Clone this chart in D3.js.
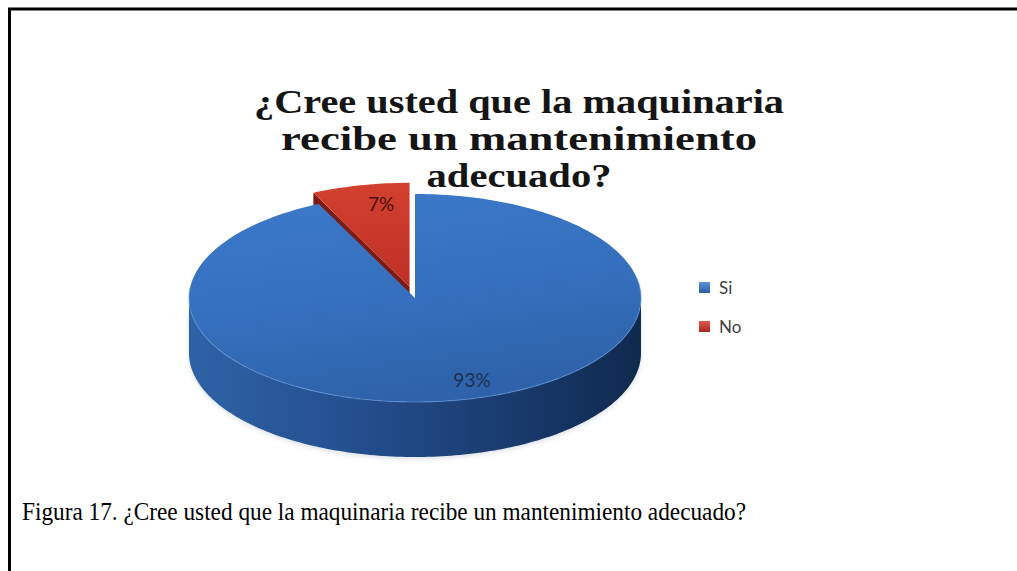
<!DOCTYPE html>
<html><head><meta charset="utf-8">
<script src="https://cdn.jsdelivr.net/npm/d3@7"></script>
<style>html,body{margin:0;padding:0;background:#fff;}svg{display:block;}</style>
</head><body>
<svg id="chart" width="1017" height="571"></svg>
<script>
// ---- data ----
const categories = ["Si", "No"];
const values = [93, 7];
const percentLabels = ["93%", "7%"];
const titleLines = ["¿Cree usted que la maquinaria", "recibe un mantenimiento", "adecuado?"];
const caption = "Figura 17. ¿Cree usted que la maquinaria recibe un mantenimiento adecuado?";

// ---- layout ----
const W = 1017, H = 571;
const svg = d3.select("#chart");
const cx = 415, cy = 298, rx = 226, ry = 104, depth = 55;
const explode = [0, 0.11];

// frame
svg.append("path").attr("d", `M9.5,${H} L9.5,9 L${W},9`).attr("fill", "none").attr("stroke", "#000").attr("stroke-width", 3);

// title
const titleY = [113, 150, 187];
const titleW = [530, 476, 185];
titleLines.forEach((t, i) => {
  svg.append("text").attr("x", 519).attr("y", titleY[i]).attr("text-anchor", "middle")
    .attr("font-family", "Liberation Serif, serif").attr("font-weight", "bold").attr("font-size", 33.5)
    .attr("fill", "#151515").attr("textLength", titleW[i]).attr("lengthAdjust", "spacingAndGlyphs").text(t);
});

// caption
svg.append("text").attr("x", 22).attr("y", 520).attr("font-family", "Liberation Serif, serif")
  .attr("font-size", 25).attr("fill", "#000").attr("textLength", 724).attr("lengthAdjust", "spacingAndGlyphs").text(caption);

// gradients
const defs = svg.append("defs");
function lin(id, stops, x1=0,y1=0,x2=1,y2=0){
  const g = defs.append("linearGradient").attr("id", id).attr("x1",x1).attr("y1",y1).attr("x2",x2).attr("y2",y2);
  stops.forEach(s => g.append("stop").attr("offset", s[0]).attr("stop-color", s[1]));
}
lin("blueTop", [[0,"#3c7aca"],[0.6,"#356fbd"],[1,"#2e63ab"]], 0,0,0.3,1);
lin("blueSide", [[0,"#2e62a6"],[0.35,"#24508f"],[0.75,"#18386a"],[1,"#102a4e"]]);
lin("redTop", [[0,"#d2402f"],[1,"#bf2f25"]], 0,0,0,1);
lin("legBlue", [[0,"#5a93d8"],[1,"#2b5fa4"]], 0,0,0,1);
lin("legRed", [[0,"#e05a4c"],[1,"#a82a22"]], 0,0,0,1);
const blur = defs.append("filter").attr("id", "soft").attr("x", "-5%").attr("y", "-5%").attr("width", "110%").attr("height", "110%");
blur.append("feGaussianBlur").attr("stdDeviation", 2.5);

const pie = d3.pie().sort(null).value(d => d)(values);
const rScale = d3.scaleLinear().domain([0, 1]).range([0, 1]);

function pt(a, r, ox, oy, z) {
  return [cx + ox + rScale(r) * rx * Math.sin(a), cy + oy - rScale(r) * ry * Math.cos(a) + z];
}
function arcPts(a0, a1, ox, oy, z) {
  const n = Math.max(2, Math.ceil(Math.abs(a1 - a0) / 0.02));
  return d3.range(n + 1).map(i => pt(a0 + (a1 - a0) * i / n, 1, ox, oy, z));
}
const line = d3.line();

const slices = pie.map((p, i) => {
  const mid = (p.startAngle + p.endAngle) / 2;
  const ox = explode[i] * rx * Math.sin(mid), oy = -explode[i] * ry * Math.cos(mid);
  return {p, i, ox, oy};
});
const topFill = ["url(#blueTop)", "url(#redTop)"];

// soft shadow beneath the pie
{
  const topA = arcPts(Math.PI / 2, 3 * Math.PI / 2, 0, 0, 0), botA = arcPts(3 * Math.PI / 2, Math.PI / 2, 0, 0, depth + 2);
  svg.append("path").attr("d", line(topA.concat(botA)) + "Z").attr("fill", "#9aa6b8").attr("opacity", 0.35).attr("filter", "url(#soft)");
}

// draw red (back) first, then blue
const order = [1, 0];
order.forEach(i => {
  const {p, ox, oy} = slices[i];
  const g = svg.append("g");
  if (i === 1) {
    const c = pt(0, 0, ox, oy, 0), e = pt(p.startAngle, 1, ox, oy, 0);
    g.append("path").attr("d", line([c, e, [e[0], e[1] + depth], [c[0], c[1] + depth]]) + "Z").attr("fill", "#7c1b14");
  }
  const s0 = Math.max(p.startAngle, Math.PI / 2), s1 = Math.min(p.endAngle, 3 * Math.PI / 2);
  if (s1 > s0) {
    const topA = arcPts(s0, s1, ox, oy, 0), botA = arcPts(s1, s0, ox, oy, depth);
    g.append("path").attr("d", line(topA.concat(botA)) + "Z").attr("fill", "url(#blueSide)");
  }
  const c = pt(0, 0, ox, oy, 0);
  g.append("path").attr("d", line([c].concat(arcPts(p.startAngle, p.endAngle, ox, oy, 0))) + "Z")
    .attr("fill", topFill[i]);
  if (i === 0) {
    g.append("path").attr("d", line(arcPts(Math.PI / 2 - 0.2, 3 * Math.PI / 2 + 0.1, ox, oy, 0)))
      .attr("fill", "none").attr("stroke", "#5d93d6").attr("stroke-width", 1.2).attr("opacity", 0.6);
  }
});

// percentage labels
svg.append("text").attr("x", 472).attr("y", 387).attr("text-anchor", "middle")
  .attr("font-family", "Lato, sans-serif").attr("font-size", 19).attr("fill", "#1c2f52").text(percentLabels[0]);
svg.append("text").attr("x", 381).attr("y", 211).attr("text-anchor", "middle")
  .attr("font-family", "Lato, sans-serif").attr("font-size", 19).attr("fill", "#4a1210").text(percentLabels[1]);

// legend
const legY = d3.scalePoint().domain(categories).range([288, 327]);
const legFill = ["url(#legBlue)", "url(#legRed)"];
categories.forEach((c, i) => {
  svg.append("rect").attr("x", 699).attr("y", legY(c) - 6).attr("width", 11).attr("height", 11).attr("fill", legFill[i]);
  svg.append("text").attr("x", 719).attr("y", legY(c) + 6).attr("font-family", "Lato, sans-serif")
    .attr("font-size", 17).attr("fill", "#404040").text(c);
});
</script>
</body></html>
